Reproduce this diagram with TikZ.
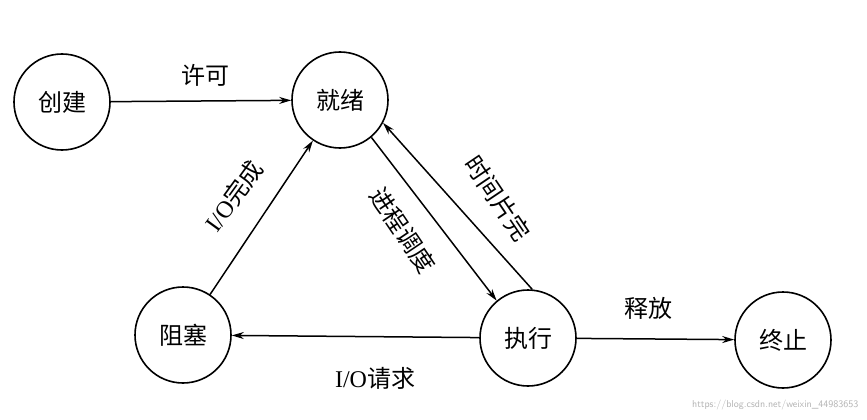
\documentclass[tikz,border=0pt]{standalone}
\usepackage{fontspec}
\setmainfont{Liberation Serif}
\newfontfamily\cjk{Noto Sans CJK SC}
\usetikzlibrary{arrows.meta}
\begin{document}
\begin{tikzpicture}[x=1pt,y=-1pt,
  st/.style={circle,draw,line width=1.6pt,minimum size=96pt,inner sep=0pt,font=\cjk\fontsize{24}{26}\selectfont},
  ar/.style={line width=1.5pt,-{Stealth[length=12pt,width=7pt]}},
  lb/.style={font=\fontsize{24}{26}\selectfont}]
\useasboundingbox (0,0) rectangle (867,420);
\node[st] (cj) at (62,102) {创建};
\node[st] (jx) at (340,100) {就绪};
\node[st] (zs) at (183,335) {阻塞};
\node[st] (zx) at (528,338) {执行};
\node[st] (zz) at (783,340) {终止};
\draw[ar] (cj) -- (jx);
\draw[ar] (zs) -- (jx);
\draw[ar] (jx.-50) -- (zx.130);
\draw[ar] (zx.85) -- (jx.-28);
\draw[ar] (zx) -- (zs);
\draw[ar] (zx) -- (zz);
\node[lb] (l1) at (205,75) {\cjk 许可};
\node[lb,rotate=54] (l2) at (234,196) {I/O\cjk 完成};
\node[lb,rotate=-56] (l3) at (403,230) {\cjk 进程调度};
\node[lb,rotate=-56] (l4) at (498,198) {\cjk 时间片完};
\node[lb] (l5) at (648,308) {\cjk 释放};
\node[lb] (l6) at (375,378) {I/O\cjk 请求};
\node[font=\fontsize{10}{12}\selectfont\sffamily,text=gray!60,anchor=south east] (wm) at (862,414) {https://blog.csdn.net/weixin\_44983653};
\end{tikzpicture}
\end{document}
